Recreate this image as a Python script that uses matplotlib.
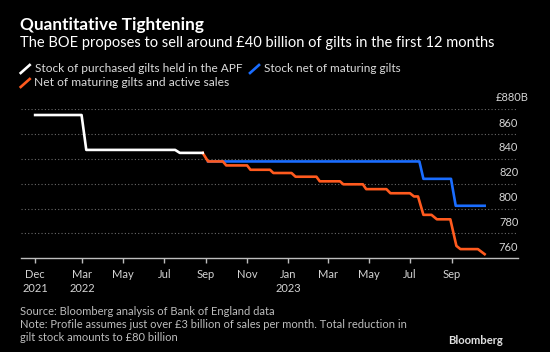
import numpy as np
import pandas as pd
import matplotlib
matplotlib.use("Agg")
import matplotlib.pyplot as plt
from matplotlib.lines import Line2D
from matplotlib.transforms import offset_copy

plt.rcParams["font.family"] = ["Lato", "DejaVu Sans"]

# Stock of purchased gilts held in the APF (GBP bn)
white_dates = ["2021-12-21", "2022-02-28", "2022-03-07", "2022-07-17", "2022-07-24", "2022-08-27"]
white_vals = [875.4, 875.4, 847.3, 847.3, 844.9, 844.9]

# Stock net of maturing gilts
blue_dates = ["2022-09-04", "2023-07-15", "2023-07-21", "2023-08-31", "2023-09-07", "2023-10-20"]
blue_vals = [838.0, 838.0, 824.0, 824.0, 802.3, 802.3]

# Net of maturing gilts and active sales
orange_dates = ["2022-08-27", "2022-09-04", "2022-09-26", "2022-10-01", "2022-11-01", "2022-11-06",
                "2022-12-05", "2022-12-10", "2023-01-06", "2023-01-12", "2023-02-12", "2023-02-17",
                "2023-03-19", "2023-03-24", "2023-04-22", "2023-04-27", "2023-05-27", "2023-06-02",
                "2023-07-01", "2023-07-07", "2023-07-13", "2023-07-21", "2023-08-02", "2023-08-10",
                "2023-08-30", "2023-09-08", "2023-09-14", "2023-10-10", "2023-10-20"]
orange_vals = [844.9, 838.0, 838.0, 834.8, 834.8, 831.3,
               831.3, 828.7, 828.7, 825.7, 825.7, 822.0,
               822.0, 819.6, 819.6, 815.7, 815.7, 812.4,
               812.4, 809.8, 809.8, 795.0, 795.0, 791.4,
               791.4, 770.0, 767.4, 767.4, 763.3]

tick_dates = ["2021-12-21", "2022-03-01", "2022-05-01", "2022-07-01", "2022-09-01", "2022-11-01",
              "2023-01-01", "2023-03-01", "2023-05-01", "2023-07-01", "2023-09-01"]
tick_labels = ["Dec\n2021", "Mar\n2022", "May", "Jul", "Sep", "Nov", "Jan\n2023", "Mar", "May", "Jul", "Sep"]

y_ticks = [760, 780, 800, 820, 840, 860]
y_labels = ["760", "780", "800", "820", "840", "860"]

BG = "#000000"
WHITE = "#ffffff"
BLUE = "#1a6dff"
ORANGE = "#ff5a1e"
GREY = "#bdbdbd"
LABEL = "#d4d4d4"

W, H = 550, 352
fig = plt.figure(figsize=(W / 100, H / 100), dpi=100, facecolor=BG)
renderer = fig.canvas.get_renderer()


def fx(px):
    return px / W


def fy(py):
    return 1 - py / H


def fit(txt, width_px):
    """scale a text's font size so it spans width_px pixels"""
    w = txt.get_window_extent(renderer).width
    txt.set_fontsize(txt.get_fontsize() * width_px / w)
    return txt


def size_for(s, width_px, **kw):
    t = fig.text(0, 0, s, fontsize=10, **kw)
    w = t.get_window_extent(renderer).width
    t.remove()
    return 10 * width_px / w


ax = fig.add_axes([fx(21), fy(258.3), fx(518.3 - 21), fy(109.3) - fy(258.3)])
ax.set_facecolor(BG)

ax.plot(pd.to_datetime(blue_dates), blue_vals, color=BLUE, lw=1.9, zorder=3)
ax.plot(pd.to_datetime(orange_dates), orange_vals, color=ORANGE, lw=1.9, zorder=4)
ax.plot(pd.to_datetime(white_dates), white_vals, color=WHITE, lw=1.9, zorder=5)

ax.set_xlim(pd.Timestamp("2021-11-30"), pd.Timestamp("2023-12-09"))
ax.set_ylim(760, 880)

for v in [780, 800, 820, 840, 860, 880]:
    ax.axhline(v, color="#6a6a6a", lw=0.8, ls=(0, (1, 2)), zorder=1)

for s in ["top", "right", "left"]:
    ax.spines[s].set_visible(False)
ax.spines["bottom"].set_color(GREY)
ax.spines["bottom"].set_linewidth(1.0)

tick_fs = size_for("May", 21.5)
ax.set_xticks(pd.to_datetime(tick_dates))
ax.set_xticklabels(tick_labels, fontsize=tick_fs, linespacing=1.25)
ax.tick_params(axis="x", colors=GREY, length=3.5, width=1.0, pad=4.5, labelcolor=LABEL)
ax.set_yticks([])

lab_tr = offset_copy(ax.get_yaxis_transform(), fig=fig, y=8.0, units="points")
for v, lab in zip(y_ticks, y_labels):
    ax.text(1.0, v, lab, transform=lab_tr, ha="right", va="center", color=LABEL, fontsize=tick_fs)
top_tr = offset_copy(ax.get_yaxis_transform(), fig=fig, x=7.5, y=8.8, units="points")
ax.text(1.0, 880, "£880B", transform=top_tr, ha="right", va="center", color=LABEL, fontsize=tick_fs)

# titles
fit(fig.text(fx(20.5), fy(25), "Quantitative Tightening", color=WHITE, fontsize=12,
             fontweight="bold", va="center"), 182)
fit(fig.text(fx(20.5), fy(43.5), "The BOE proposes to sell around £40 billion of gilts in the first 12 months",
             color=WHITE, fontsize=11, va="center"), 471)

# legend
legend_items = [
    (20.7, 69, 35, 207.7, WHITE, "Stock of purchased gilts held in the APF"),
    (250, 69, 264, 137, BLUE, "Stock net of maturing gilts"),
    (20.7, 83, 34.3, 195, ORANGE, "Net of maturing gilts and active sales"),
]
for x0, yc, xt, wt, col, lab in legend_items:
    fig.add_artist(Line2D([fx(x0), fx(x0 + 9)], [fy(yc + 4), fy(yc - 4)], color=col, lw=1.9,
                          transform=fig.transFigure))
    fit(fig.text(fx(xt), fy(yc), lab, color="#dcdcdc", fontsize=9, va="center"), wt)

# footer
foot_fs = size_for("Note: Profile assumes just over £3 billion of sales per month. Total reduction in", 386)
fig.text(fx(20), fy(311.7), "Source: Bloomberg analysis of Bank of England data", color=GREY, fontsize=foot_fs, va="center")
fig.text(fx(20), fy(324.7), "Note: Profile assumes just over £3 billion of sales per month. Total reduction in",
         color=GREY, fontsize=foot_fs, va="center")
fig.text(fx(20), fy(337.5), "gilt stock amounts to £80 billion", color=GREY, fontsize=foot_fs, va="center")
fit(fig.text(fx(503), fy(340.5), "Bloomberg", color="#e0e0e0", fontsize=8.5, fontweight="bold",
             ha="right", va="center"), 54.7)

fig.savefig("out.png", dpi=100, facecolor=BG)
